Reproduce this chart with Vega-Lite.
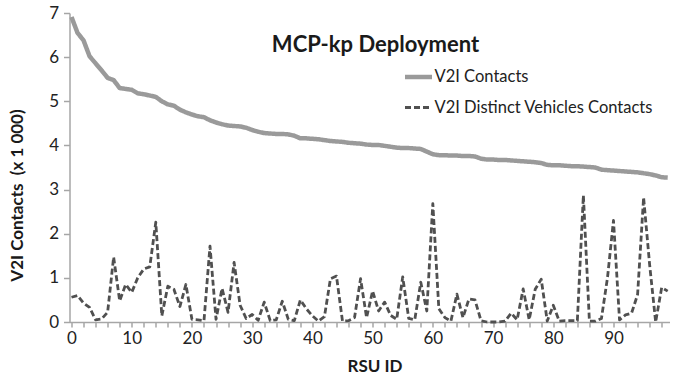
{
  "$schema": "https://vega.github.io/schema/vega-lite/v6.json",
  "width": 600,
  "height": 309,
  "autosize": {"type": "none"},
  "padding": {"left": 69.5, "top": 13, "right": 11.5, "bottom": 59},
  "background": "white",
  "title": {"text": "MCP-kp Deployment", "fontSize": 22, "fontWeight": "bold", "font": "Lato", "color": "#1a1a1a", "anchor": "middle", "dx": 6, "dy": 70, "offset": 0, "baseline": "alphabetic"},
  "data": {"values": [
    {"id":0,"s":"V2I Contacts","v":6.91},{"id":1,"s":"V2I Contacts","v":6.55},{"id":2,"s":"V2I Contacts","v":6.38},{"id":3,"s":"V2I Contacts","v":6.02},{"id":4,"s":"V2I Contacts","v":5.86},{"id":5,"s":"V2I Contacts","v":5.70},{"id":6,"s":"V2I Contacts","v":5.53},{"id":7,"s":"V2I Contacts","v":5.48},{"id":8,"s":"V2I Contacts","v":5.30},{"id":9,"s":"V2I Contacts","v":5.28},
    {"id":10,"s":"V2I Contacts","v":5.26},{"id":11,"s":"V2I Contacts","v":5.18},{"id":12,"s":"V2I Contacts","v":5.16},{"id":13,"s":"V2I Contacts","v":5.13},{"id":14,"s":"V2I Contacts","v":5.10},{"id":15,"s":"V2I Contacts","v":5.00},{"id":16,"s":"V2I Contacts","v":4.93},{"id":17,"s":"V2I Contacts","v":4.90},{"id":18,"s":"V2I Contacts","v":4.81},{"id":19,"s":"V2I Contacts","v":4.75},
    {"id":20,"s":"V2I Contacts","v":4.70},{"id":21,"s":"V2I Contacts","v":4.66},{"id":22,"s":"V2I Contacts","v":4.64},{"id":23,"s":"V2I Contacts","v":4.57},{"id":24,"s":"V2I Contacts","v":4.52},{"id":25,"s":"V2I Contacts","v":4.48},{"id":26,"s":"V2I Contacts","v":4.45},{"id":27,"s":"V2I Contacts","v":4.44},{"id":28,"s":"V2I Contacts","v":4.43},{"id":29,"s":"V2I Contacts","v":4.40},
    {"id":30,"s":"V2I Contacts","v":4.35},{"id":31,"s":"V2I Contacts","v":4.31},{"id":32,"s":"V2I Contacts","v":4.28},{"id":33,"s":"V2I Contacts","v":4.27},{"id":34,"s":"V2I Contacts","v":4.26},{"id":35,"s":"V2I Contacts","v":4.26},{"id":36,"s":"V2I Contacts","v":4.25},{"id":37,"s":"V2I Contacts","v":4.22},{"id":38,"s":"V2I Contacts","v":4.16},{"id":39,"s":"V2I Contacts","v":4.16},
    {"id":40,"s":"V2I Contacts","v":4.15},{"id":41,"s":"V2I Contacts","v":4.14},{"id":42,"s":"V2I Contacts","v":4.12},{"id":43,"s":"V2I Contacts","v":4.10},{"id":44,"s":"V2I Contacts","v":4.09},{"id":45,"s":"V2I Contacts","v":4.08},{"id":46,"s":"V2I Contacts","v":4.06},{"id":47,"s":"V2I Contacts","v":4.05},{"id":48,"s":"V2I Contacts","v":4.04},{"id":49,"s":"V2I Contacts","v":4.02},
    {"id":50,"s":"V2I Contacts","v":4.01},{"id":51,"s":"V2I Contacts","v":4.01},{"id":52,"s":"V2I Contacts","v":3.99},{"id":53,"s":"V2I Contacts","v":3.97},{"id":54,"s":"V2I Contacts","v":3.95},{"id":55,"s":"V2I Contacts","v":3.94},{"id":56,"s":"V2I Contacts","v":3.94},{"id":57,"s":"V2I Contacts","v":3.93},{"id":58,"s":"V2I Contacts","v":3.92},{"id":59,"s":"V2I Contacts","v":3.86},
    {"id":60,"s":"V2I Contacts","v":3.80},{"id":61,"s":"V2I Contacts","v":3.78},{"id":62,"s":"V2I Contacts","v":3.78},{"id":63,"s":"V2I Contacts","v":3.77},{"id":64,"s":"V2I Contacts","v":3.77},{"id":65,"s":"V2I Contacts","v":3.76},{"id":66,"s":"V2I Contacts","v":3.76},{"id":67,"s":"V2I Contacts","v":3.75},{"id":68,"s":"V2I Contacts","v":3.70},{"id":69,"s":"V2I Contacts","v":3.68},
    {"id":70,"s":"V2I Contacts","v":3.68},{"id":71,"s":"V2I Contacts","v":3.67},{"id":72,"s":"V2I Contacts","v":3.67},{"id":73,"s":"V2I Contacts","v":3.66},{"id":74,"s":"V2I Contacts","v":3.65},{"id":75,"s":"V2I Contacts","v":3.64},{"id":76,"s":"V2I Contacts","v":3.63},{"id":77,"s":"V2I Contacts","v":3.62},{"id":78,"s":"V2I Contacts","v":3.60},{"id":79,"s":"V2I Contacts","v":3.56},
    {"id":80,"s":"V2I Contacts","v":3.55},{"id":81,"s":"V2I Contacts","v":3.55},{"id":82,"s":"V2I Contacts","v":3.54},{"id":83,"s":"V2I Contacts","v":3.53},{"id":84,"s":"V2I Contacts","v":3.53},{"id":85,"s":"V2I Contacts","v":3.52},{"id":86,"s":"V2I Contacts","v":3.51},{"id":87,"s":"V2I Contacts","v":3.50},{"id":88,"s":"V2I Contacts","v":3.45},{"id":89,"s":"V2I Contacts","v":3.44},
    {"id":90,"s":"V2I Contacts","v":3.43},{"id":91,"s":"V2I Contacts","v":3.42},{"id":92,"s":"V2I Contacts","v":3.41},{"id":93,"s":"V2I Contacts","v":3.40},{"id":94,"s":"V2I Contacts","v":3.39},{"id":95,"s":"V2I Contacts","v":3.37},{"id":96,"s":"V2I Contacts","v":3.35},{"id":97,"s":"V2I Contacts","v":3.32},{"id":98,"s":"V2I Contacts","v":3.28},{"id":99,"s":"V2I Contacts","v":3.27},
    {"id":0,"s":"V2I Distinct Vehicles Contacts","v":0.56},{"id":1,"s":"V2I Distinct Vehicles Contacts","v":0.60},{"id":2,"s":"V2I Distinct Vehicles Contacts","v":0.43},{"id":3,"s":"V2I Distinct Vehicles Contacts","v":0.33},{"id":4,"s":"V2I Distinct Vehicles Contacts","v":0.05},{"id":5,"s":"V2I Distinct Vehicles Contacts","v":0.07},{"id":6,"s":"V2I Distinct Vehicles Contacts","v":0.22},{"id":7,"s":"V2I Distinct Vehicles Contacts","v":1.47},{"id":8,"s":"V2I Distinct Vehicles Contacts","v":0.48},{"id":9,"s":"V2I Distinct Vehicles Contacts","v":0.85},
    {"id":10,"s":"V2I Distinct Vehicles Contacts","v":0.67},{"id":11,"s":"V2I Distinct Vehicles Contacts","v":1.0},{"id":12,"s":"V2I Distinct Vehicles Contacts","v":1.2},{"id":13,"s":"V2I Distinct Vehicles Contacts","v":1.25},{"id":14,"s":"V2I Distinct Vehicles Contacts","v":2.26},{"id":15,"s":"V2I Distinct Vehicles Contacts","v":0.14},{"id":16,"s":"V2I Distinct Vehicles Contacts","v":0.81},{"id":17,"s":"V2I Distinct Vehicles Contacts","v":0.74},{"id":18,"s":"V2I Distinct Vehicles Contacts","v":0.35},{"id":19,"s":"V2I Distinct Vehicles Contacts","v":0.85},
    {"id":20,"s":"V2I Distinct Vehicles Contacts","v":0.06},{"id":21,"s":"V2I Distinct Vehicles Contacts","v":0.05},{"id":22,"s":"V2I Distinct Vehicles Contacts","v":0.03},{"id":23,"s":"V2I Distinct Vehicles Contacts","v":1.72},{"id":24,"s":"V2I Distinct Vehicles Contacts","v":0.06},{"id":25,"s":"V2I Distinct Vehicles Contacts","v":0.76},{"id":26,"s":"V2I Distinct Vehicles Contacts","v":0.22},{"id":27,"s":"V2I Distinct Vehicles Contacts","v":1.35},{"id":28,"s":"V2I Distinct Vehicles Contacts","v":0.38},{"id":29,"s":"V2I Distinct Vehicles Contacts","v":0.08},
    {"id":30,"s":"V2I Distinct Vehicles Contacts","v":0.17},{"id":31,"s":"V2I Distinct Vehicles Contacts","v":0.04},{"id":32,"s":"V2I Distinct Vehicles Contacts","v":0.45},{"id":33,"s":"V2I Distinct Vehicles Contacts","v":0.03},{"id":34,"s":"V2I Distinct Vehicles Contacts","v":0.05},{"id":35,"s":"V2I Distinct Vehicles Contacts","v":0.47},{"id":36,"s":"V2I Distinct Vehicles Contacts","v":0.06},{"id":37,"s":"V2I Distinct Vehicles Contacts","v":0.03},{"id":38,"s":"V2I Distinct Vehicles Contacts","v":0.5},{"id":39,"s":"V2I Distinct Vehicles Contacts","v":0.3},
    {"id":40,"s":"V2I Distinct Vehicles Contacts","v":0.14},{"id":41,"s":"V2I Distinct Vehicles Contacts","v":0.02},{"id":42,"s":"V2I Distinct Vehicles Contacts","v":0.12},{"id":43,"s":"V2I Distinct Vehicles Contacts","v":0.98},{"id":44,"s":"V2I Distinct Vehicles Contacts","v":1.04},{"id":45,"s":"V2I Distinct Vehicles Contacts","v":0.02},{"id":46,"s":"V2I Distinct Vehicles Contacts","v":0.03},{"id":47,"s":"V2I Distinct Vehicles Contacts","v":0.1},{"id":48,"s":"V2I Distinct Vehicles Contacts","v":0.98},{"id":49,"s":"V2I Distinct Vehicles Contacts","v":0.1},
    {"id":50,"s":"V2I Distinct Vehicles Contacts","v":0.7},{"id":51,"s":"V2I Distinct Vehicles Contacts","v":0.25},{"id":52,"s":"V2I Distinct Vehicles Contacts","v":0.45},{"id":53,"s":"V2I Distinct Vehicles Contacts","v":0.15},{"id":54,"s":"V2I Distinct Vehicles Contacts","v":0.06},{"id":55,"s":"V2I Distinct Vehicles Contacts","v":1.02},{"id":56,"s":"V2I Distinct Vehicles Contacts","v":0.08},{"id":57,"s":"V2I Distinct Vehicles Contacts","v":0.05},{"id":58,"s":"V2I Distinct Vehicles Contacts","v":0.9},{"id":59,"s":"V2I Distinct Vehicles Contacts","v":0.25},
    {"id":60,"s":"V2I Distinct Vehicles Contacts","v":2.68},{"id":61,"s":"V2I Distinct Vehicles Contacts","v":0.3},{"id":62,"s":"V2I Distinct Vehicles Contacts","v":0.1},{"id":63,"s":"V2I Distinct Vehicles Contacts","v":0.02},{"id":64,"s":"V2I Distinct Vehicles Contacts","v":0.63},{"id":65,"s":"V2I Distinct Vehicles Contacts","v":0.1},{"id":66,"s":"V2I Distinct Vehicles Contacts","v":0.52},{"id":67,"s":"V2I Distinct Vehicles Contacts","v":0.5},{"id":68,"s":"V2I Distinct Vehicles Contacts","v":0.03},{"id":69,"s":"V2I Distinct Vehicles Contacts","v":0.0},
    {"id":70,"s":"V2I Distinct Vehicles Contacts","v":0.0},{"id":71,"s":"V2I Distinct Vehicles Contacts","v":0.0},{"id":72,"s":"V2I Distinct Vehicles Contacts","v":0.02},{"id":73,"s":"V2I Distinct Vehicles Contacts","v":0.2},{"id":74,"s":"V2I Distinct Vehicles Contacts","v":0.05},{"id":75,"s":"V2I Distinct Vehicles Contacts","v":0.75},{"id":76,"s":"V2I Distinct Vehicles Contacts","v":0.05},{"id":77,"s":"V2I Distinct Vehicles Contacts","v":0.74},{"id":78,"s":"V2I Distinct Vehicles Contacts","v":0.97},{"id":79,"s":"V2I Distinct Vehicles Contacts","v":0.02},
    {"id":80,"s":"V2I Distinct Vehicles Contacts","v":0.38},{"id":81,"s":"V2I Distinct Vehicles Contacts","v":0.02},{"id":82,"s":"V2I Distinct Vehicles Contacts","v":0.03},{"id":83,"s":"V2I Distinct Vehicles Contacts","v":0.03},{"id":84,"s":"V2I Distinct Vehicles Contacts","v":0.03},{"id":85,"s":"V2I Distinct Vehicles Contacts","v":2.87},{"id":86,"s":"V2I Distinct Vehicles Contacts","v":0.02},{"id":87,"s":"V2I Distinct Vehicles Contacts","v":0.02},{"id":88,"s":"V2I Distinct Vehicles Contacts","v":0.08},{"id":89,"s":"V2I Distinct Vehicles Contacts","v":1.0},
    {"id":90,"s":"V2I Distinct Vehicles Contacts","v":2.3},{"id":91,"s":"V2I Distinct Vehicles Contacts","v":0.05},{"id":92,"s":"V2I Distinct Vehicles Contacts","v":0.16},{"id":93,"s":"V2I Distinct Vehicles Contacts","v":0.2},{"id":94,"s":"V2I Distinct Vehicles Contacts","v":0.62},{"id":95,"s":"V2I Distinct Vehicles Contacts","v":2.82},{"id":96,"s":"V2I Distinct Vehicles Contacts","v":1.3},{"id":97,"s":"V2I Distinct Vehicles Contacts","v":0.0},{"id":98,"s":"V2I Distinct Vehicles Contacts","v":0.78},{"id":99,"s":"V2I Distinct Vehicles Contacts","v":0.7}
  ]},
  "mark": {"type": "line", "strokeCap": "butt", "strokeJoin": "round", "clip": false},
  "encoding": {
    "x": {"field": "id", "type": "quantitative",
      "scale": {"domain": [-0.33, 99.3], "nice": false, "zero": false},
      "axis": {"values": [0,2,4,6,8,10,12,14,16,18,20,22,24,26,28,30,32,34,36,38,40,42,44,46,48,50,52,54,56,58,60,62,64,66,68,70,72,74,76,78,80,82,84,86,88,90,92,94,96,98],
        "labelExpr": "datum.value % 10 === 0 ? datum.label : ''", "labelOverlap": false, "labelFlush": false,
        "tickSize": 5, "labelPadding": 3, "title": "RSU ID", "titleX": 305, "titleY": 44, "titleBaseline": "middle", "titleAlign": "center"}},
    "y": {"field": "v", "type": "quantitative",
      "scale": {"domain": [0, 7], "nice": false},
      "axis": {"values": [0,1,2,3,4,5,6,7], "tickSize": 6, "labelPadding": 5,
        "title": "V2I Contacts \u00a0(x 1 000)", "titleX": -52, "titleY": 182, "titleAngle": 270, "titleAlign": "center", "titleBaseline": "middle"}},
    "color": {"field": "s", "type": "nominal", "scale": {"range": ["#9a9a9a", "#505050"]}},
    "strokeDash": {"field": "s", "type": "nominal", "scale": {"range": [[1, 0], [6, 3]]}},
    "strokeWidth": {"field": "s", "type": "ordinal", "scale": {"range": [4.5, 2.8]}}
  },
  "config": {
    "view": {"stroke": null},
    "font": "Lato",
    "axis": {"domainColor": "#a6a6a6", "domainWidth": 1.5, "tickColor": "#a6a6a6", "tickWidth": 1.5, "grid": false,
      "labelFont": "Lato", "labelFontSize": 17, "labelColor": "#222222",
      "titleFont": "Lato", "titleFontSize": 17, "titleColor": "#1a1a1a", "titleFontWeight": "bold"},
    "legend": {"orient": "none", "legendX": 333, "legendY": 48, "title": null, "symbolType": "stroke", "symbolSize": 729,
      "labelFont": "Lato", "labelFontSize": 16.5, "labelColor": "#222222", "rowPadding": 6.5, "labelOffset": 0, "labelLimit": 400}
  }
}
